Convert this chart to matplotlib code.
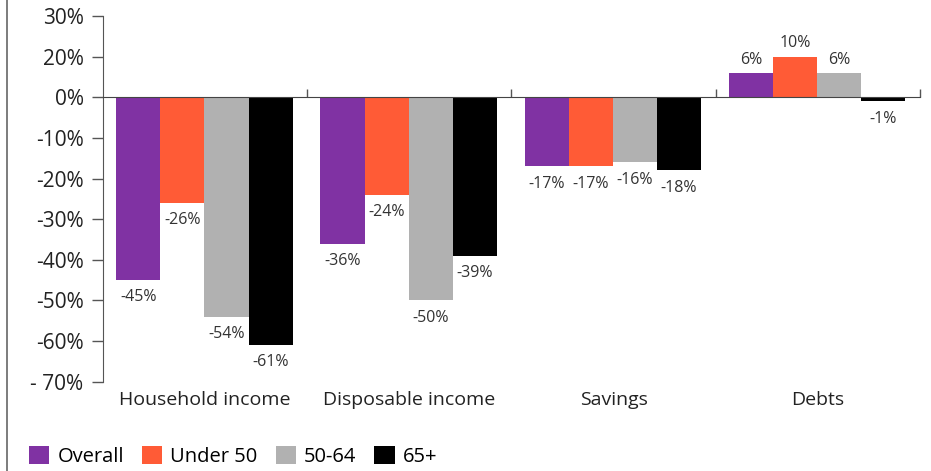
import numpy as np
import matplotlib.pyplot as plt
from matplotlib.lines import Line2D
from matplotlib.patches import Patch
from matplotlib.transforms import blended_transform_factory

plt.rcParams['font.family'] = ['Open Sans', 'DejaVu Sans']

categories = ['Household income', 'Disposable income', 'Savings', 'Debts']
groups = ['Overall', 'Under 50', '50-64', '65+']
overall = [-45, -36, -17, 6]
under_50 = [-26, -24, -17, 10]
age_50_64 = [-54, -50, -16, 6]
age_65_plus = [-61, -39, -18, -1]
# axis runs 20 .. -70 in steps of 10; the top two labels read 30% / 20%
yticks = [20, 10, 0, -10, -20, -30, -40, -50, -60, -70]
ytick_labels = ['30%', '20%', '0%', '-10%', '-20%', '-30%', '-40%', '-50%', '-60%', '- 70%']

colors = ['#8032A3', '#FF5B36', '#B1B1B1', '#000000']
series = [overall, under_50, age_50_64, age_65_plus]

fig = plt.figure(figsize=(9.31, 4.71), dpi=100)
ax = fig.add_axes([0.1106, 0.1896, 0.8774, 0.7764])

x = np.arange(len(categories))
w = 0.216
for i, (vals, c) in enumerate(zip(series, colors)):
    pos = x + (i - 1.5) * w - 0.003
    ax.bar(pos, vals, width=w, color=c, zorder=2)
    for px, v in zip(pos, vals):
        off = 9.5 if v > 0 else -12.5
        ax.annotate(f'{v}%', (px, v), xytext=(0, off), textcoords='offset points',
                    ha='center', va='center', fontsize=11.5, color='#333333')

ax.set_xlim(-0.5, 3.5)
ax.set_ylim(-70, 20)
ax.set_yticks(yticks)
ax.set_yticklabels(ytick_labels, fontsize=15, color='#222222')
ax.tick_params(axis='y', length=8, width=1, color='#555555', pad=6)

# zero line acts as the category axis, ticks mark group boundaries
ax.spines['bottom'].set_position(('data', 0))
ax.spines['bottom'].set_color('#444444')
ax.spines['bottom'].set_zorder(3)
ax.set_xticks([0.5, 1.5, 2.5, 3.5])
ax.set_xticklabels([])
ax.tick_params(axis='x', direction='in', length=6, width=1, color='#555555')
for s in ['top', 'right']:
    ax.spines[s].set_visible(False)
ax.spines['left'].set_color('#555555')

trans = blended_transform_factory(ax.transData, ax.transAxes)
for xi, name in zip(x, categories):
    ax.text(xi, -0.05, name, transform=trans, ha='center', va='center',
            fontsize=14, color='#222222')

fig.add_artist(Line2D([0.0075, 0.0075], [0, 1], color='#666666', lw=1.2))

handles = [Patch(facecolor=c) for c in colors]
fig.legend(handles, groups, loc='lower left', bbox_to_anchor=(0.012, -0.03),
           ncol=4, frameon=False, fontsize=14.5, handlelength=1.0, handleheight=1.0,
           handletextpad=0.4, columnspacing=0.9)

fig.savefig('out.png', dpi=100)
